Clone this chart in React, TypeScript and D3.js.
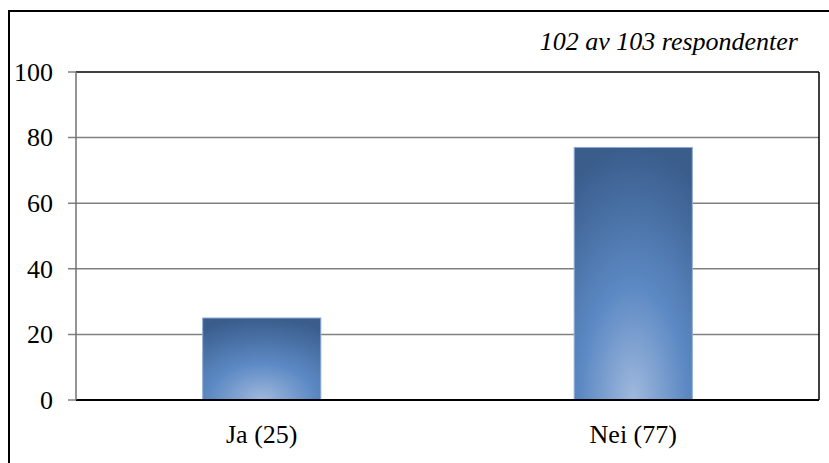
import React from "react";
import * as d3 from "d3";

const categories = ["Ja (25)", "Nei (77)"];
const values = [25, 77];
const yTicks = [0, 20, 40, 60, 80, 100];
const note = "102 av 103 respondenter";

const W = 829;
const H = 463;
const plot = { left: 76, right: 819, top: 72, bottom: 400 };

export default function App() {
  const x = d3
    .scaleBand<string>()
    .domain(categories)
    .range([plot.left, plot.right])
    .paddingInner(0.682)
    .paddingOuter(0.341);
  const y = d3.scaleLinear().domain([0, 100]).range([plot.bottom, plot.top]);
  const textStyle: React.CSSProperties = {
    fontFamily: '"Liberation Serif"',
    fontSize: "26px",
  };

  return (
    <svg
      width={W}
      height={H}
      style={{ position: "absolute", left: 0, top: 0, background: "#fff" }}
    >
      <defs>
        <radialGradient id="barGrad" cx="0.5" cy="1" r="1" fx="0.5" fy="1">
          <stop offset="0" stopColor="#a0b9dd" />
          <stop offset="0.45" stopColor="#5c89c4" />
          <stop offset="1" stopColor="#3a5d8c" />
        </radialGradient>
      </defs>
      <rect x={9} y={11} width={W + 20} height={H + 20} fill="#fff" stroke="#000" strokeWidth={2} />
      {yTicks.map((t) => (
        <line
          key={"g" + t}
          x1={plot.left - 8}
          x2={t === 0 || t === 100 ? plot.left : plot.right}
          y1={y(t)}
          y2={y(t)}
          stroke="#808080"
          strokeWidth={1.5}
        />
      ))}
      {values.map((v, i) => (
        <rect
          key={categories[i]}
          x={x(categories[i])}
          y={y(v)}
          width={x.bandwidth()}
          height={y(0) - y(v)}
          fill="url(#barGrad)"
          stroke="#8eaad2"
          strokeWidth={1}
        />
      ))}
      <line x1={plot.left} x2={plot.right} y1={plot.top} y2={plot.top} stroke="#000" strokeWidth={1.5} />
      <line x1={plot.right} x2={plot.right} y1={plot.top} y2={plot.bottom} stroke="#000" strokeWidth={1.5} />
      <line x1={plot.left} x2={plot.right} y1={plot.bottom} y2={plot.bottom} stroke="#000" strokeWidth={2} />
      <line x1={plot.left} x2={plot.left} y1={plot.top} y2={plot.bottom} stroke="#707070" strokeWidth={1.5} />
      {yTicks.map((t) => (
        <text
          key={"t" + t}
          x={53}
          y={y(t)}
          dy="0.34em"
          textAnchor="end"
          style={textStyle}
          fill="#000"
        >
          {t}
        </text>
      ))}
      {categories.map((c) => (
        <text
          key={"c" + c}
          x={(x(c) as number) + x.bandwidth() / 2}
          y={443}
          textAnchor="middle"
          style={textStyle}
          fill="#000"
        >
          {c}
        </text>
      ))}
      <text
        x={798}
        y={50}
        textAnchor="end"
        style={{ ...textStyle, fontStyle: "italic" }}
        fill="#000"
      >
        {note}
      </text>
    </svg>
  );
}
